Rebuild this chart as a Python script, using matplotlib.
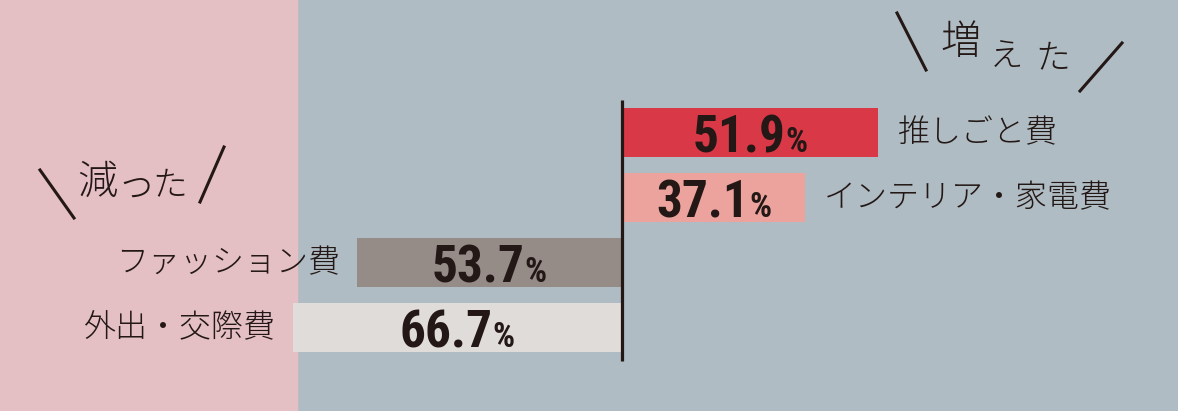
import matplotlib.pyplot as plt
from matplotlib.patches import Rectangle
from matplotlib import font_manager as fm

W, H = 1178, 411

cats_up = ['推しごと費', 'インテリア・家電費']
vals_up = [51.9, 37.1]
cats_down = ['ファッション費', '外出・交際費']
vals_down = [53.7, 66.7]

col_up = ['#d93847', '#eca39d']
col_down = ['#958c87', '#e0dcda']
ink = '#231815'
jp = ['Noto Sans CJK JP', 'DejaVu Sans']

# pick a narrow font for the numbers if one is installed
fonts = [(f.name, f.stretch) for f in fm.fontManager.ttflist]
names = {n for n, _ in fonts}
num_family, num_stretch = 'DejaVu Sans', 'normal'
for cand in ['Roboto Condensed', 'Liberation Sans Narrow', 'Open Sans Condensed',
             'DejaVu Sans Condensed']:
    if cand in names:
        num_family = cand
        break
else:
    for n, s in fonts:
        if n in ('Roboto', 'Open Sans', 'DejaVu Sans', 'Noto Sans') and s in ('condensed', 'semi-condensed', 500, 'narrow'):
            num_family, num_stretch = n, s
            break

px = 4.94  # pixels per percent
x0 = 622   # pixel position of the zero line

fig = plt.figure(figsize=(W / 100, H / 100), dpi=100)
fig.patch.set_facecolor('#afbcc3')
ax = fig.add_axes([0, 0, 1, 1])
ax.set_facecolor('#afbcc3')
ax.set_xlim(-x0 / px, (W - x0) / px)
ax.set_ylim(H, 0)
ax.axis('off')

ax.add_patch(Rectangle((0, 0), 297 / W, 1, transform=ax.transAxes,
                       color='#e4bfc4', zorder=0))

def P(x, y):
    return (x / W, 1 - y / H)

ys_up = [132.5, 197.5]
ys_down = [262.5, 327.5]
bh = 49

ax.barh(ys_up, vals_up, height=bh, color=col_up, zorder=2)
ax.barh(ys_down, [-v for v in vals_down], height=bh, color=col_down, zorder=2)
ax.plot([0, 0], [100, 361], color=ink, lw=2.3, zorder=3, solid_capstyle='butt')

fig.canvas.draw()
r = fig.canvas.get_renderer()
inv = ax.transData.inverted()

def pct_label(xc, y, v):
    t1 = ax.text(0, y + 19.5, f'{v:.1f}', fontsize=37, family=num_family,
                 fontstretch=num_stretch, fontweight='bold', color=ink,
                 ha='left', va='baseline', zorder=4)
    t2 = ax.text(0, y + 19.5, '%', fontsize=25, family=num_family,
                 fontstretch=num_stretch, fontweight='bold', color=ink,
                 ha='left', va='baseline', zorder=4)
    w1 = t1.get_window_extent(r).width
    w2 = t2.get_window_extent(r).width
    cx = ax.transData.transform((xc, 0))[0]
    left = cx - (w1 + w2) / 2
    t1.set_x(inv.transform((left, 0))[0])
    t2.set_x(inv.transform((left + w1, 0))[0])

for v, y, c in zip(vals_up, ys_up, cats_up):
    pct_label(v / 2, y, v)
    ax.text(v + 19 / px, y, c, fontsize=23, family=jp, fontweight='light',
            color=ink, ha='left', va='center', zorder=4)

for v, y, c in zip(vals_down, ys_down, cats_down):
    pct_label(-v / 2, y, v)
    ax.text(-v - 17 / px, y, c, fontsize=23, family=jp, fontweight='light',
            color=ink, ha='right', va='center', zorder=4)

def slash(a, b):
    ax.plot([a[0] / W, b[0] / W], [1 - a[1] / H, 1 - b[1] / H],
            transform=ax.transAxes, color=ink, lw=2.2, zorder=4)

slash((897, 13), (926, 70))
slash((1080, 91), (1122, 43))
for ch, x, y, s in [('増', 960, 43, 29), ('え', 1007, 57, 24), ('た', 1053, 58, 25)]:
    ax.text(*P(x, y), ch, transform=ax.transAxes, fontsize=s, family=jp,
            fontweight='light', color=ink, ha='center', va='center', zorder=4)

slash((40, 170), (74, 218))
slash((200, 202), (224, 147))
for ch, x, y, s in [('減', 97, 183, 29), ('っ', 136, 186, 28), ('た', 170, 185, 25)]:
    ax.text(*P(x, y), ch, transform=ax.transAxes, fontsize=s, family=jp,
            fontweight='light', color=ink, ha='center', va='center', zorder=4)

fig.savefig('out.png', dpi=100, facecolor=fig.get_facecolor())
